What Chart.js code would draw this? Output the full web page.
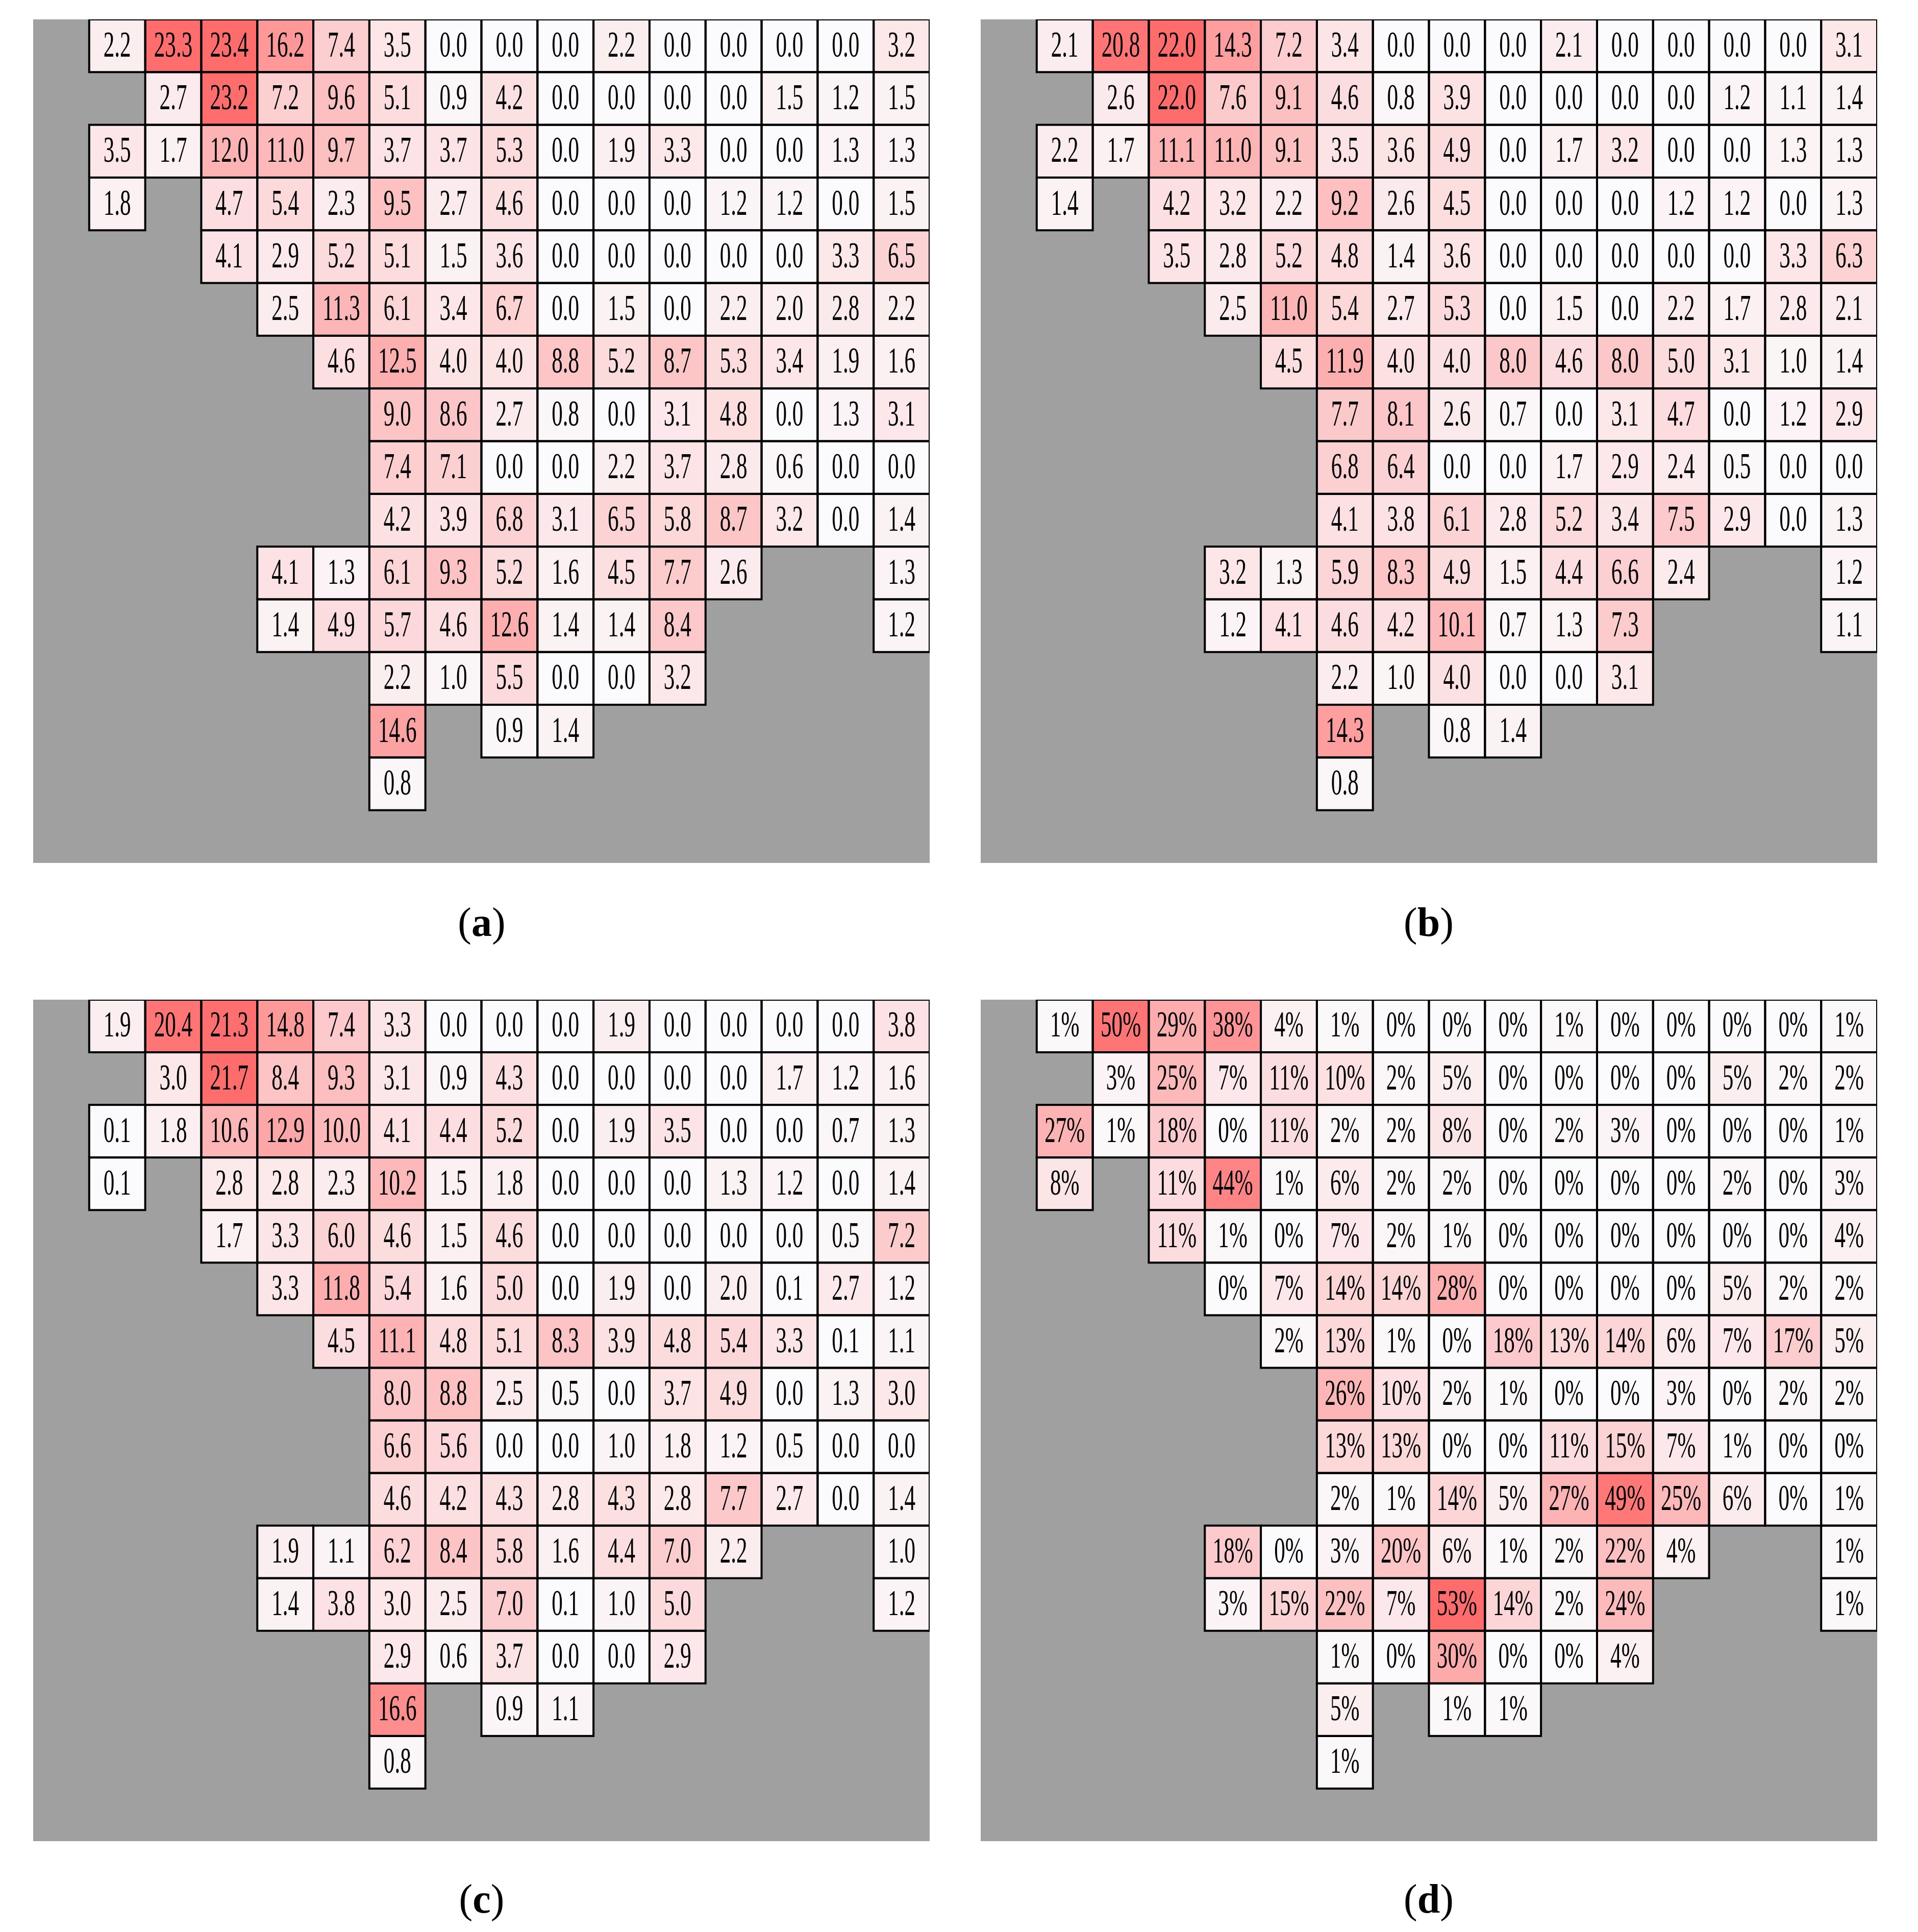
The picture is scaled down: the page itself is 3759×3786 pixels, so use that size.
<!DOCTYPE html>
<html><head><meta charset="utf-8">
<script src="https://cdn.jsdelivr.net/npm/chart.js@4/dist/chart.umd.min.js"></script>
<style>
html,body{margin:0;padding:0;background:#fff;width:3759px;height:3786px;overflow:hidden;}
.p{position:absolute;}
.lab{position:absolute;font-family:"Liberation Serif",serif;font-size:80px;transform:translateX(-50%);}
</style></head><body>
<div class="p" id="wa" style="left:65px;top:38px;width:1757px;height:1653px"><canvas id="ca"></canvas></div>
<div class="p" id="wb" style="left:1922px;top:38px;width:1757px;height:1653px"><canvas id="cb"></canvas></div>
<div class="p" id="wc" style="left:65px;top:1959px;width:1757px;height:1649px"><canvas id="cc"></canvas></div>
<div class="p" id="wd" style="left:1922px;top:1959px;width:1757px;height:1649px"><canvas id="cd"></canvas></div>
<div class="lab" style="left:944px;top:1762px">(<b>a</b>)</div>
<div class="lab" style="left:2800px;top:1762px">(<b>b</b>)</div>
<div class="lab" style="left:944px;top:3676px">(<b>c</b>)</div>
<div class="lab" style="left:2800px;top:3676px">(<b>d</b>)</div>
<script>
const _ = null;
const panelA = [
[2.2,23.3,23.4,16.2,7.4,3.5,0.0,0.0,0.0,2.2,0.0,0.0,0.0,0.0,3.2],
[_,2.7,23.2,7.2,9.6,5.1,0.9,4.2,0.0,0.0,0.0,0.0,1.5,1.2,1.5],
[3.5,1.7,12.0,11.0,9.7,3.7,3.7,5.3,0.0,1.9,3.3,0.0,0.0,1.3,1.3],
[1.8,_,4.7,5.4,2.3,9.5,2.7,4.6,0.0,0.0,0.0,1.2,1.2,0.0,1.5],
[_,_,4.1,2.9,5.2,5.1,1.5,3.6,0.0,0.0,0.0,0.0,0.0,3.3,6.5],
[_,_,_,2.5,11.3,6.1,3.4,6.7,0.0,1.5,0.0,2.2,2.0,2.8,2.2],
[_,_,_,_,4.6,12.5,4.0,4.0,8.8,5.2,8.7,5.3,3.4,1.9,1.6],
[_,_,_,_,_,9.0,8.6,2.7,0.8,0.0,3.1,4.8,0.0,1.3,3.1],
[_,_,_,_,_,7.4,7.1,0.0,0.0,2.2,3.7,2.8,0.6,0.0,0.0],
[_,_,_,_,_,4.2,3.9,6.8,3.1,6.5,5.8,8.7,3.2,0.0,1.4],
[_,_,_,4.1,1.3,6.1,9.3,5.2,1.6,4.5,7.7,2.6,_,_,1.3],
[_,_,_,1.4,4.9,5.7,4.6,12.6,1.4,1.4,8.4,_,_,_,1.2],
[_,_,_,_,_,2.2,1.0,5.5,0.0,0.0,3.2,_,_,_,_],
[_,_,_,_,_,14.6,_,0.9,1.4,_,_,_,_,_,_],
[_,_,_,_,_,0.8,_,_,_,_,_,_,_,_,_]];
const panelB = [
[2.1,20.8,22.0,14.3,7.2,3.4,0.0,0.0,0.0,2.1,0.0,0.0,0.0,0.0,3.1],
[_,2.6,22.0,7.6,9.1,4.6,0.8,3.9,0.0,0.0,0.0,0.0,1.2,1.1,1.4],
[2.2,1.7,11.1,11.0,9.1,3.5,3.6,4.9,0.0,1.7,3.2,0.0,0.0,1.3,1.3],
[1.4,_,4.2,3.2,2.2,9.2,2.6,4.5,0.0,0.0,0.0,1.2,1.2,0.0,1.3],
[_,_,3.5,2.8,5.2,4.8,1.4,3.6,0.0,0.0,0.0,0.0,0.0,3.3,6.3],
[_,_,_,2.5,11.0,5.4,2.7,5.3,0.0,1.5,0.0,2.2,1.7,2.8,2.1],
[_,_,_,_,4.5,11.9,4.0,4.0,8.0,4.6,8.0,5.0,3.1,1.0,1.4],
[_,_,_,_,_,7.7,8.1,2.6,0.7,0.0,3.1,4.7,0.0,1.2,2.9],
[_,_,_,_,_,6.8,6.4,0.0,0.0,1.7,2.9,2.4,0.5,0.0,0.0],
[_,_,_,_,_,4.1,3.8,6.1,2.8,5.2,3.4,7.5,2.9,0.0,1.3],
[_,_,_,3.2,1.3,5.9,8.3,4.9,1.5,4.4,6.6,2.4,_,_,1.2],
[_,_,_,1.2,4.1,4.6,4.2,10.1,0.7,1.3,7.3,_,_,_,1.1],
[_,_,_,_,_,2.2,1.0,4.0,0.0,0.0,3.1,_,_,_,_],
[_,_,_,_,_,14.3,_,0.8,1.4,_,_,_,_,_,_],
[_,_,_,_,_,0.8,_,_,_,_,_,_,_,_,_]];
const panelC = [
[1.9,20.4,21.3,14.8,7.4,3.3,0.0,0.0,0.0,1.9,0.0,0.0,0.0,0.0,3.8],
[_,3.0,21.7,8.4,9.3,3.1,0.9,4.3,0.0,0.0,0.0,0.0,1.7,1.2,1.6],
[0.1,1.8,10.6,12.9,10.0,4.1,4.4,5.2,0.0,1.9,3.5,0.0,0.0,0.7,1.3],
[0.1,_,2.8,2.8,2.3,10.2,1.5,1.8,0.0,0.0,0.0,1.3,1.2,0.0,1.4],
[_,_,1.7,3.3,6.0,4.6,1.5,4.6,0.0,0.0,0.0,0.0,0.0,0.5,7.2],
[_,_,_,3.3,11.8,5.4,1.6,5.0,0.0,1.9,0.0,2.0,0.1,2.7,1.2],
[_,_,_,_,4.5,11.1,4.8,5.1,8.3,3.9,4.8,5.4,3.3,0.1,1.1],
[_,_,_,_,_,8.0,8.8,2.5,0.5,0.0,3.7,4.9,0.0,1.3,3.0],
[_,_,_,_,_,6.6,5.6,0.0,0.0,1.0,1.8,1.2,0.5,0.0,0.0],
[_,_,_,_,_,4.6,4.2,4.3,2.8,4.3,2.8,7.7,2.7,0.0,1.4],
[_,_,_,1.9,1.1,6.2,8.4,5.8,1.6,4.4,7.0,2.2,_,_,1.0],
[_,_,_,1.4,3.8,3.0,2.5,7.0,0.1,1.0,5.0,_,_,_,1.2],
[_,_,_,_,_,2.9,0.6,3.7,0.0,0.0,2.9,_,_,_,_],
[_,_,_,_,_,16.6,_,0.9,1.1,_,_,_,_,_,_],
[_,_,_,_,_,0.8,_,_,_,_,_,_,_,_,_]];
const panelD = [
[1,50,29,38,4,1,0,0,0,1,0,0,0,0,1],
[_,3,25,7,11,10,2,5,0,0,0,0,5,2,2],
[27,1,18,0,11,2,2,8,0,2,3,0,0,0,1],
[8,_,11,44,1,6,2,2,0,0,0,0,2,0,3],
[_,_,11,1,0,7,2,1,0,0,0,0,0,0,4],
[_,_,_,0,7,14,14,28,0,0,0,0,5,2,2],
[_,_,_,_,2,13,1,0,18,13,14,6,7,17,5],
[_,_,_,_,_,26,10,2,1,0,0,3,0,2,2],
[_,_,_,_,_,13,13,0,0,11,15,7,1,0,0],
[_,_,_,_,_,2,1,14,5,27,49,25,6,0,1],
[_,_,_,18,0,3,20,6,1,2,22,4,_,_,1],
[_,_,_,3,15,22,7,53,14,2,24,_,_,_,1],
[_,_,_,_,_,1,0,30,0,0,4,_,_,_,_],
[_,_,_,_,_,5,_,1,1,_,_,_,_,_,_],
[_,_,_,_,_,1,_,_,_,_,_,_,_,_,_]];

function color(t){
  const lo=[251,251,253], hi=[255,108,108];
  return 'rgb('+lo.map((c,i)=>Math.round(c+(hi[i]-c)*t)).join(',')+')';
}
const cellPlugin = {
  id:'cells',
  beforeDatasetsDraw(chart){
    const {ctx, chartArea:a, scales:{x,y}} = chart;
    ctx.save();
    ctx.fillStyle='#a0a0a0';
    ctx.fillRect(a.left,a.top,a.right-a.left,a.bottom-a.top);
    const pts = chart.data.datasets[0].data;
    const max = chart.options.plugins.cells.max;
    const pct = chart.options.plugins.cells.pct;
    const geo = pts.map(p=>({p,
      x0:x.getPixelForValue(p.c), x1:x.getPixelForValue(p.c+1),
      y0:y.getPixelForValue(p.r), y1:y.getPixelForValue(p.r+1)}));
    geo.forEach(g=>{ ctx.fillStyle=color(g.p.v/max); ctx.fillRect(g.x0,g.y0,g.x1-g.x0,g.y1-g.y0); });
    ctx.strokeStyle='#000'; ctx.lineWidth=4;
    geo.forEach(g=>{ ctx.strokeRect(g.x0,g.y0,g.x1-g.x0,g.y1-g.y0); });
    ctx.fillStyle='#000'; ctx.font='72px "Liberation Serif", serif';
    ctx.textAlign='center'; ctx.textBaseline='middle';
    geo.forEach(g=>{
      const s = pct ? Math.round(g.p.v)+'%' : g.p.v.toFixed(1);
      ctx.save(); ctx.translate((g.x0+g.x1)/2,(g.y0+g.y1)/2+2); ctx.scale(0.6,1);
      ctx.fillText(s,0,0); ctx.restore();
    });
    ctx.restore();
  }
};
function make(id, rows, pct){
  const data=[];
  rows.forEach((row,r)=>row.forEach((v,k)=>{ if(v!==null) data.push({x:k+1.5,y:r+0.5,c:k+1,r:r,v:v}); }));
  const max = Math.max(...data.map(d=>d.v));
  new Chart(document.getElementById(id),{
    type:'scatter',
    data:{datasets:[{data:data,pointRadius:0,pointHoverRadius:0}]},
    options:{responsive:true,maintainAspectRatio:false,animation:false,devicePixelRatio:1,
      layout:{padding:0},
      plugins:{legend:{display:false},tooltip:{enabled:false},cells:{max:max,pct:pct}},
      scales:{x:{type:'linear',min:0,max:16,display:false},
              y:{type:'linear',min:0,max:16,reverse:true,display:false}}},
    plugins:[cellPlugin]
  });
}
make('ca',panelA,false);
make('cb',panelB,false);
make('cc',panelC,false);
make('cd',panelD,true);
</script>
</body></html>
